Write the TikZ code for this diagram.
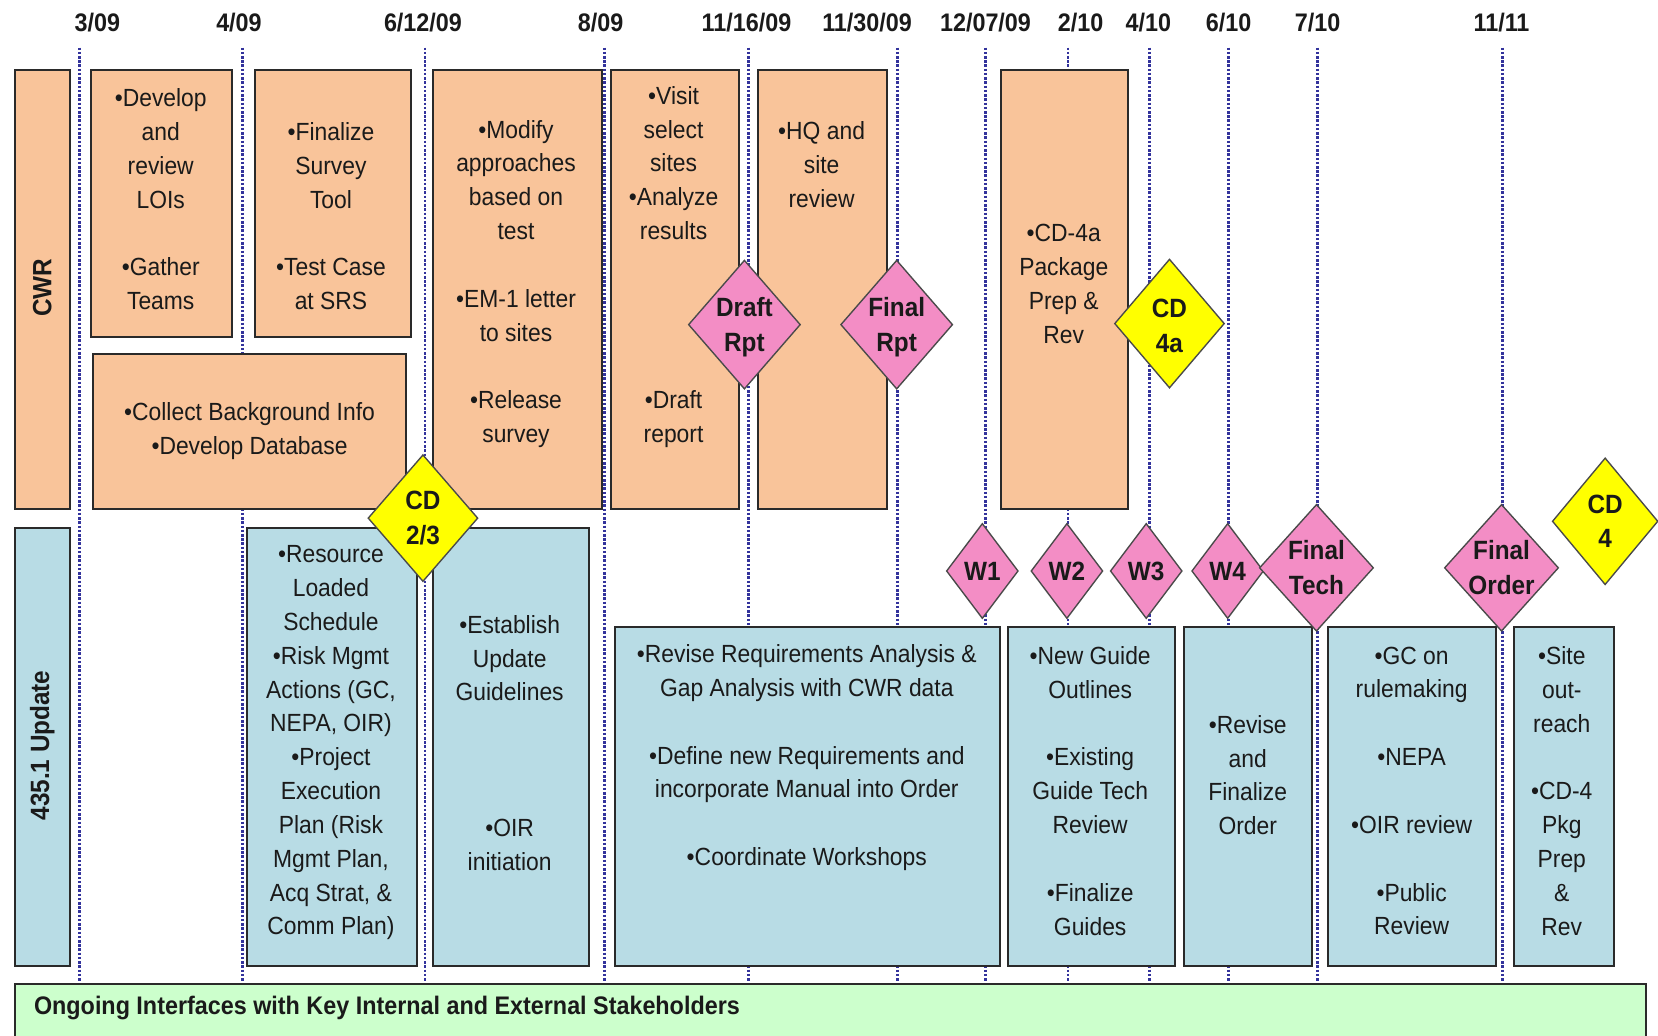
\documentclass[tikz,border=0pt]{standalone}
\usepackage{fontspec}
\setmainfont{Liberation Sans}[FakeStretch=0.92]
\usetikzlibrary{shapes.geometric}
\definecolor{peach}{HTML}{F9C49A}
\definecolor{lblue}{HTML}{B8DCE5}
\definecolor{pinkms}{HTML}{F38DC5}
\definecolor{yelms}{HTML}{FFFF00}
\definecolor{lgreen}{HTML}{CCFFCC}
\definecolor{navyl}{HTML}{33339C}
\definecolor{ink}{HTML}{1A1A1A}
\definecolor{edge}{HTML}{2A2A2A}
\tikzset{
  box/.style={draw=edge, line width=1.9pt, inner sep=0pt, anchor=north west},
  cwrbox/.style={box, fill=peach},
  updbox/.style={box, fill=lblue},
  txt/.style={align=center, text=ink, font=\fontsize{23.5}{32}\selectfont, inner sep=0pt},
  rowlbl/.style={rotate=90, text=ink, font=\bfseries\fontsize{25}{30}\selectfont, inner sep=0pt},
  datelbl/.style={text=ink, font=\bfseries\fontsize{24}{28}\selectfont, inner sep=0pt},
  dateline/.style={draw=navyl, line width=2.6pt, dash pattern=on 2.4pt off 1.6pt},
  mile/.style={diamond, draw=edge!85, line width=1.3pt, inner sep=0pt},
  mspink/.style={mile, fill=pinkms},
  msyellow/.style={mile, fill=yelms},
  mstxt/.style={align=center, text=ink, font=\bfseries\fontsize{25}{33}\selectfont, inner sep=0pt},
}
\begin{document}
\begin{tikzpicture}[x=1pt,y=-1pt]
\useasboundingbox (0,0) rectangle (1568,979);
\clip (0,0) rectangle (1568,979);
\fill[white] (0,0) rectangle (1568,979);

% date labels and lines
\foreach \n/\lx/\ly/\t in {1/75/92/3\slash 09, 2/229/226/4\slash 09, 3/402/400/6\slash 12\slash 09, 4/572/568/8\slash 09,
  5/708/706/11\slash 16\slash 09, 6/849/820/11\slash 30\slash 09, 7/932/932/12\slash 07\slash 09, 8/1010/1022/2\slash 10,
  9/1087/1086/4\slash 10, 10/1162/1162/6\slash 10, 11/1246/1246/7\slash 10, 12/1421/1420/11\slash 11}{
  \node[datelbl] (date\n) at (\ly,21) {\t};
  \coordinate (top\n) at (\lx,45);
  \coordinate (bot\n) at (\lx,928);
  \draw[dateline] (top\n) -- (bot\n);
}

% CWR row
\node[cwrbox, minimum width=52, minimum height=415] (cwrlbl) at (13,65) {};
\node[rowlbl] (cwrt) at (40,272) {CWR};
\node[cwrbox, minimum width=133, minimum height=253] (dev) at (85,65) {};
\node[txt] (devt) at (152,188.5) {•Develop\\and\\review\\LOIs\\[32pt]•Gather\\Teams};
\node[cwrbox, minimum width=148, minimum height=253] (fin) at (240,65) {};
\node[txt] (fint) at (313,204.5) {•Finalize\\Survey\\Tool\\[32pt]•Test Case\\at SRS};
\node[cwrbox, minimum width=296, minimum height=146] (col) at (87,334) {};
\node[txt] (colt) at (236,408) {•Collect Background Info\\•Develop Database};
\node[cwrbox, minimum width=159, minimum height=415] (mod) at (409,65) {};
\node[txt] (modt) at (488,268.5) {•Modify\\approaches\\based on\\test\\[32pt]•EM-1 letter\\to sites\\[32pt]•Release\\survey};
\node[cwrbox, minimum width=121, minimum height=415] (vis) at (577,65) {};
\node[txt] (vist) at (637,252.5) {•Visit\\select\\sites\\•Analyze\\results\\[128pt]•Draft\\report};
\node[cwrbox, minimum width=122, minimum height=415] (hq) at (716,65) {};
\node[txt] (hqt) at (777,156) {•HQ and\\site\\review};
\node[cwrbox, minimum width=120, minimum height=415] (pkg) at (946,65) {};
\node[txt] (pkgt) at (1006,268.5) {•CD-4a\\Package\\Prep \&\\Rev};

% 435.1 Update row
\node[updbox, minimum width=52, minimum height=415] (updlbl) at (13,498) {};
\node[rowlbl] (updt) at (40,705) {435.1 Update};
\node[updbox, minimum width=160, minimum height=415] (res) at (233,498) {};
\node[txt] (rest) at (313,702.5) {•Resource\\Loaded\\Schedule\\•Risk Mgmt\\Actions (GC,\\NEPA, OIR)\\•Project\\Execution\\Plan (Risk\\Mgmt Plan,\\Acq Strat, \&\\Comm Plan)};
\node[updbox, minimum width=147, minimum height=415] (est) at (409,498) {};
\node[txt] (estt) at (482,702.5) {•Establish\\Update\\Guidelines\\[96pt]•OIR\\initiation};
\node[updbox, minimum width=364, minimum height=321] (rev) at (581,592) {};
\node[txt] (revt) at (763,716.5) {•Revise Requirements Analysis \&\\Gap Analysis with CWR data\\[32pt]•Define new Requirements and\\incorporate Manual into Order\\[32pt]•Coordinate Workshops};
\node[updbox, minimum width=158, minimum height=321] (ng) at (952,592) {};
\node[txt] (ngt) at (1031,748) {•New Guide\\Outlines\\[32pt]•Existing\\Guide Tech\\Review\\[32pt]•Finalize\\Guides};
\node[updbox, minimum width=121, minimum height=321] (ord) at (1119,592) {};
\node[txt] (ordt) at (1180,733) {•Revise\\and\\Finalize\\Order};
\node[updbox, minimum width=159, minimum height=321] (gc) at (1255,592) {};
\node[txt] (gct) at (1335,748) {•GC on\\rulemaking\\[32pt]•NEPA\\[32pt]•OIR review\\[32pt]•Public\\Review};
\node[updbox, minimum width=94, minimum height=321] (site) at (1431,592) {};
\node[txt] (sitet) at (1477,748) {•Site\\out-\\reach\\[32pt]•CD-4\\Pkg\\Prep\\\&\\Rev};

% milestones
\node[mspink, minimum width=106, minimum height=122] (drpt) at (704,307) {};
\node[mstxt] at ([yshift=-2pt]drpt) {Draft\\Rpt};
\node[mspink, minimum width=106, minimum height=122] (frpt) at (848,307) {};
\node[mstxt] at ([yshift=-2pt]frpt) {Final\\Rpt};
\node[msyellow, minimum width=104, minimum height=122] (cdfa) at (1106,306) {};
\node[mstxt] at ([yshift=-2pt]cdfa) {CD\\4a};
\node[msyellow, minimum width=104, minimum height=120] (cdtt) at (400,490) {};
\node[mstxt] at (cdtt) {CD\\2/3};
\foreach \n/\x/\t in {w1/929/W1, w2/1009/W2, w3/1084/W3, w4/1161/W4}{
  \node[mspink, minimum width=68, minimum height=90] (\n) at (\x,540) {};
  \node[mstxt] at (\n) {\t};
}
\node[mspink, minimum width=108, minimum height=120] (ftech) at (1245,537) {};
\node[mstxt] at (ftech) {Final\\Tech};
\node[mspink, minimum width=108, minimum height=120] (ford) at (1420,537) {};
\node[mstxt] at (ford) {Final\\Order};
\node[msyellow, minimum width=100, minimum height=120] (cdf) at (1518,493) {};
\node[mstxt] at (cdf) {CD\\4};

% stakeholder bar
\node[box, fill=lgreen, minimum width=1543, minimum height=70] (bar) at (13,930) {};
\node[datelbl, anchor=west] (bart) at (32,953) {Ongoing Interfaces with Key Internal and External Stakeholders};
\end{tikzpicture}
\end{document}
